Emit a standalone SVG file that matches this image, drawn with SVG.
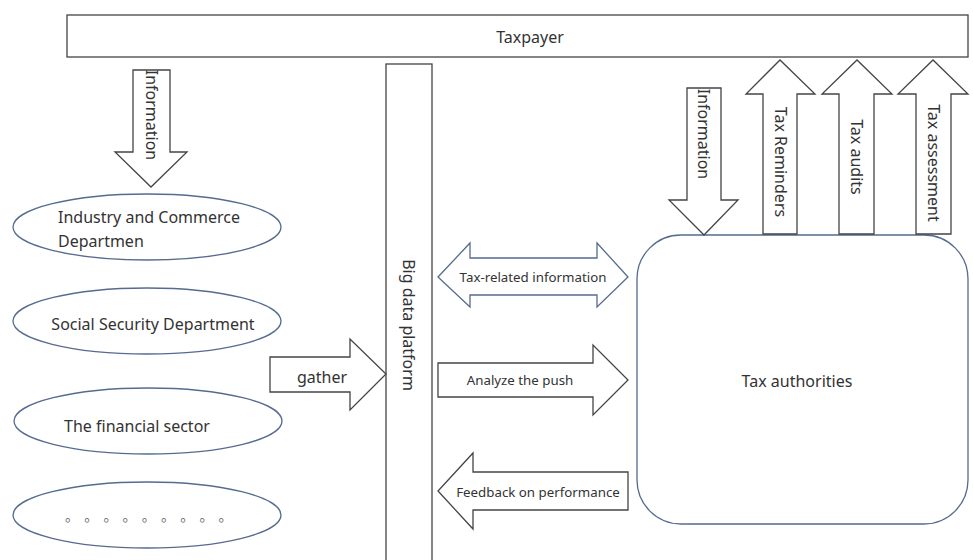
<svg xmlns="http://www.w3.org/2000/svg" width="973" height="560" viewBox="0 0 973 560">
<style>
.k{fill:#fff;stroke:#444;stroke-width:1.3}
.b{fill:#fff;stroke:#566b8f;stroke-width:1.3}
text{font-family:"Noto Sans","Open Sans","Liberation Sans",sans-serif;fill:#333}
.m{font-size:16px}
.s{font-size:13.3px}
</style>
<rect width="973" height="560" fill="#fff"/>
<g id="taxpayer">
<rect class="k" x="67" y="15" width="901" height="42"/>
<text class="m" x="530" y="43" text-anchor="middle">Taxpayer</text>
</g>
<g id="big-data-platform">
<rect class="k" x="386" y="64" width="46" height="500"/>
<text class="m" transform="translate(403 325) rotate(90)" text-anchor="middle">Big data platform</text>
</g>
<g id="industry">
<ellipse class="b" cx="147" cy="227" rx="134" ry="33"/>
<text class="m" x="58" y="223">Industry and Commerce</text>
<text class="m" x="58" y="247">Departmen</text>
</g>
<g id="social">
<ellipse class="b" cx="147" cy="321" rx="134" ry="33"/>
<text class="m" x="153" y="330" text-anchor="middle">Social Security Department</text>
</g>
<g id="financial">
<ellipse class="b" cx="148" cy="421" rx="134" ry="33"/>
<text class="m" x="137" y="432" text-anchor="middle">The financial sector</text>
</g>
<g id="others">
<ellipse class="b" cx="147" cy="515" rx="134" ry="33"/>
<text x="65 84.2 103.4 122.6 141.8 161 180.2 199.4 218.6" y="521" style="font-family:'Noto Sans CJK SC',sans-serif;font-size:14px;fill:#666">。。。。。。。。。</text>
</g>
<g id="tax-authorities">
<rect class="b" x="637" y="235" width="331" height="289" rx="44" ry="44"/>
<text class="m" x="797" y="387" text-anchor="middle">Tax authorities</text>
</g>
<g id="connectors">
<g id="info-left">
<path class="k" d="M133 70 H170 V152 H187 L151 187 L115 152 H133 Z"/>
<text class="m" transform="translate(146 115) rotate(90)" text-anchor="middle">Information</text>
</g>
<g id="gather">
<path class="k" d="M270 357 H350 V339 L386 374 L350 410 V392 H270 Z"/>
<text class="m" x="322" y="383" text-anchor="middle">gather</text>
</g>
<g id="tax-related">
<path class="b" d="M438 277 L470 243 V258 H597 V243 L628 277 L597 307 V295 H470 V307 Z"/>
<text class="s" x="533" y="282" text-anchor="middle">Tax-related information</text>
</g>
<g id="analyze">
<path class="k" d="M438 363 H593 V345 L628 380 L593 415 V397 H438 Z"/>
<text class="s" x="520" y="385" text-anchor="middle">Analyze the push</text>
</g>
<g id="feedback">
<path class="k" d="M628 472 H473 V453 L438 491 L473 529 V510 H628 Z"/>
<text class="s" x="538" y="497" text-anchor="middle">Feedback on performance</text>
</g>
<g id="info-right">
<path class="k" d="M687 88 H721 V200 H738 L704 235 L669 200 H687 Z"/>
<text class="m" transform="translate(698 134) rotate(90)" text-anchor="middle">Information</text>
</g>
<g id="reminders">
<path class="k" d="M763 234 V94 H746 L780 60 L815 94 H797 V234 Z"/>
<text class="m" transform="translate(775 162) rotate(90)" text-anchor="middle">Tax Reminders</text>
</g>
<g id="audits">
<path class="k" d="M839 234 V94 H822 L857 60 L892 94 H874 V234 Z"/>
<text class="m" transform="translate(851 157) rotate(90)" text-anchor="middle">Tax audits</text>
</g>
<g id="assessment">
<path class="k" d="M916 234 V94 H898 L933 60 L968 94 H951 V234 Z"/>
<text class="m" transform="translate(928 163) rotate(90)" text-anchor="middle">Tax assessment</text>
</g>
</g>
</svg>
